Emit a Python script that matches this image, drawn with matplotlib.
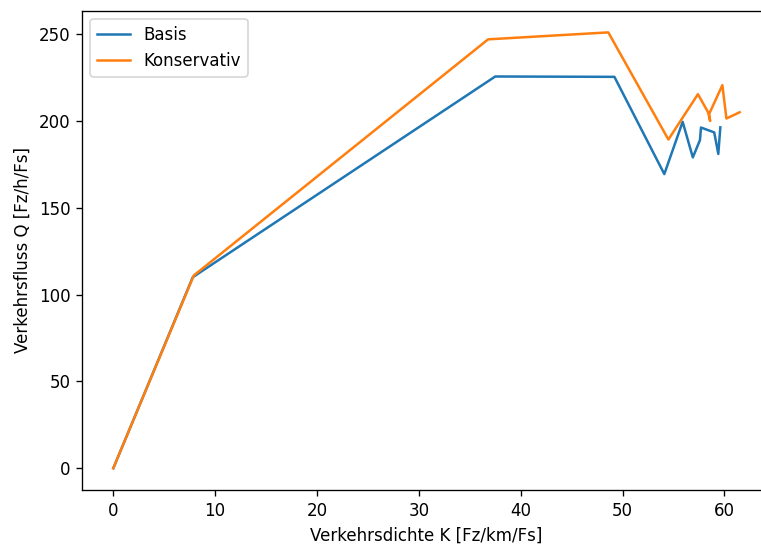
import matplotlib

matplotlib.use("Agg")

import matplotlib.pyplot as plt

# Fundamental diagram values
basis_k = [0, 7.8, 37.5, 49.2, 54.1, 55.9, 56.9, 57.6, 57.7, 59.0, 59.4, 59.6]
basis_q = [0, 110, 225.6, 225.4, 169.4, 199.5, 179.0, 189.0, 196.2, 193.4, 181.0, 196.3]

kons_k = [0, 7.9, 36.8, 48.6, 54.5, 57.4, 58.4, 58.6, 58.5, 59.8, 60.2, 61.5]
kons_q = [0, 111, 247.0, 251.0, 189.3, 215.4, 205.0, 200.0, 204.0, 220.6, 201.4, 205.0]

fig = plt.figure(figsize=(761 / 120, 546 / 120), dpi=120)
# the reference is cropped on the right, so the axes run past the figure edge
ax = fig.add_axes([82 / 761, 56 / 546, 689 / 761, 479.4 / 546])

ax.plot(basis_k, basis_q, label="Basis")
ax.plot(kons_k, kons_q, label="Konservativ")

ax.set_xlim(-3.075, 64.575)
ax.set_xlabel("Verkehrsdichte K [Fz/km/Fs]")
ax.set_ylabel("Verkehrsfluss Q [Fz/h/Fs]")
ax.legend(loc="upper left")

fig.savefig("out.png", dpi=120)
plt.close(fig)
